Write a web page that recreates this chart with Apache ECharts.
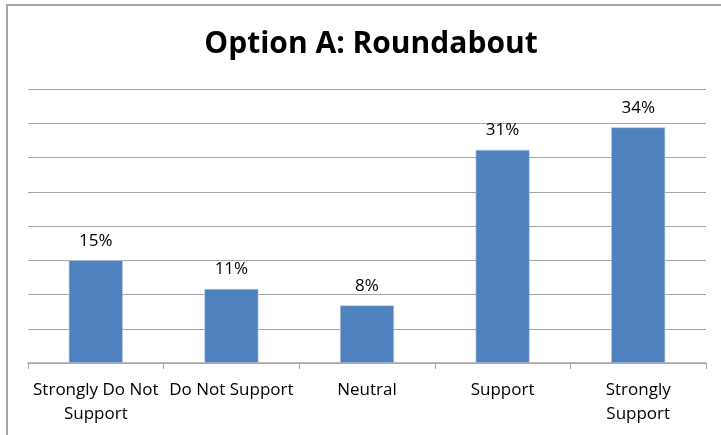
<!DOCTYPE html>
<html>
<head>
<meta charset="utf-8">
<script src="https://cdn.jsdelivr.net/npm/echarts@6/dist/echarts.min.js"></script>
<style>
  html, body { margin: 0; padding: 0; background: #fff; }
  #chart { width: 721px; height: 435px; }
</style>
</head>
<body>
<div id="chart"></div>
<script>
// Option A: Roundabout - survey responses
const categories = ['Strongly Do Not\nSupport', 'Do Not Support', 'Neutral', 'Support', 'Strongly\nSupport'];
const values = [15, 10.8, 8.4, 31.1, 34.4];
const labels = ['15%', '11%', '8%', '31%', '34%'];

const chart = echarts.init(document.getElementById('chart'));

const option = {
  backgroundColor: '#ffffff',
  animation: false,
  title: {
    text: 'Option A: Roundabout',
    left: 366,
    top: 24,
    textAlign: 'center',
    textStyle: { fontFamily: 'Open Sans', fontWeight: 'bold', fontSize: 30, color: '#000' }
  },
  graphic: [{
    type: 'rect',
    shape: { x: 7, y: 5, width: 800, height: 500 },
    style: { fill: 'none', stroke: '#a6a6a6', lineWidth: 2 },
    silent: true
  }],
  grid: { left: 28, right: 15, top: 89, bottom: 72, containLabel: false },
  xAxis: {
    type: 'category',
    data: categories,
    axisLine: { lineStyle: { color: '#a6a6a6', width: 1.5 } },
    axisTick: { show: true, alignWithLabel: false, length: 6, lineStyle: { color: '#a6a6a6' } },
    axisLabel: {
      interval: 0,
      margin: 15,
      color: '#000',
      fontFamily: 'Open Sans',
      fontSize: 17,
      lineHeight: 24
    }
  },
  yAxis: {
    type: 'value',
    min: 0,
    max: 40,
    interval: 5,
    axisLine: { show: false },
    axisTick: { show: false },
    axisLabel: { show: false },
    splitLine: { lineStyle: { color: '#a6a6a6', width: 1.2 } }
  },
  series: [{
    type: 'bar',
    data: values,
    barWidth: 54,
    itemStyle: { color: '#4f81bd', borderColor: '#b9cde5', borderWidth: 0.6 },
    label: {
      show: true,
      position: 'top',
      distance: 11,
      color: '#000',
      fontFamily: 'Open Sans',
      fontSize: 17,
      formatter: p => labels[p.dataIndex]
    }
  }]
};

chart.setOption(option);
</script>
</body>
</html>
